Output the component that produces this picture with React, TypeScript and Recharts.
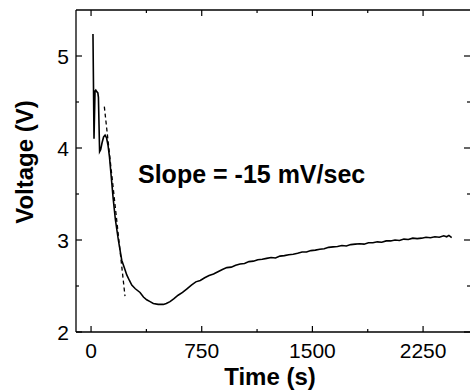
import React from 'react';
import { LineChart, Line, XAxis, YAxis } from 'recharts';

// measured trace (time in s, voltage in V)
const timeS = [
  13, 20, 27, 32, 40, 46, 50, 58, 65, 75, 85, 95, 105, 115, 125, 135, 150, 165, 185, 208,
  225, 242, 260, 276, 300, 332, 355, 377, 400, 422, 455, 490, 510, 535, 560, 590, 620, 650,
  680, 710, 740, 770, 800, 830, 860, 890, 920, 950, 980, 1010, 1040, 1070, 1100, 1130, 1160,
  1190, 1220, 1250, 1280, 1310, 1340, 1370, 1400, 1430, 1460, 1490, 1520, 1550, 1580, 1610,
  1640, 1670, 1700, 1730, 1760, 1790, 1820, 1850, 1880, 1910, 1940, 1970, 2000, 2030, 2060,
  2090, 2120, 2150, 2180, 2210, 2240, 2270, 2300, 2330, 2360, 2390, 2410, 2425, 2444,
];
const voltage = [
  5.24, 4.10, 4.62, 4.63, 4.61, 4.60, 4.55, 3.96, 3.98, 4.06, 4.12, 4.14, 4.11, 4.03, 3.90,
  3.72, 3.45, 3.22, 3.0, 2.78, 2.70, 2.62, 2.56, 2.51, 2.47, 2.43, 2.38, 2.35, 2.33, 2.31,
  2.30, 2.30, 2.31, 2.33, 2.36, 2.40, 2.43, 2.47, 2.51, 2.545, 2.56, 2.59, 2.615, 2.63, 2.655,
  2.68, 2.70, 2.705, 2.725, 2.74, 2.745, 2.765, 2.77, 2.785, 2.79, 2.80, 2.81, 2.805, 2.825,
  2.83, 2.84, 2.845, 2.855, 2.87, 2.87, 2.885, 2.89, 2.90, 2.905, 2.92, 2.925, 2.93, 2.94,
  2.935, 2.95, 2.955, 2.96, 2.955, 2.97, 2.97, 2.98, 2.975, 2.99, 2.99, 3.0, 2.995, 3.01,
  3.005, 3.02, 3.015, 3.02, 3.03, 3.025, 3.035, 3.03, 3.045, 3.035, 3.05, 3.025,
];

// linear fit of the initial drop
const fitTime = [90, 230];
const fitVoltage = [4.45, 2.39];

const xMajorTicks = [0, 750, 1500, 2250];
const xMinorTicks = [375, 1125, 1875];
const yMajorTicks = [2, 3, 4, 5];
const yMinorTicks = [2.5, 3.5, 4.5];

const traceData = timeS.map((t, i) => ({ t, v: voltage[i] }));
const fitData = fitTime.map((t, i) => ({ t, v: fitVoltage[i] }));

const FONT = '"Liberation Sans", Arial, sans-serif';
const X_DOMAIN: [number, number] = [-102, 2568];
const Y_DOMAIN: [number, number] = [2, 5.5];

const BottomTick = (props: any) => {
  const { x, y, payload } = props;
  const major = xMajorTicks.includes(payload.value);
  return (
    <g>
      <line x1={x} x2={x} y1={y} y2={y - (major ? 6 : 3)} stroke="#000" strokeWidth={1.2} />
      {major && (
        <text x={x} y={y + 26} textAnchor="middle" fontSize={21} fontFamily={FONT} fill="#000">
          {payload.value}
        </text>
      )}
    </g>
  );
};

const TopTick = (props: any) => {
  const { x, y, payload } = props;
  const major = xMajorTicks.includes(payload.value);
  return <line x1={x} x2={x} y1={y} y2={y + (major ? 6 : 3)} stroke="#000" strokeWidth={1.2} />;
};

const LeftTick = (props: any) => {
  const { x, y, payload } = props;
  const major = yMajorTicks.includes(payload.value);
  return (
    <g>
      <line x1={x} x2={x + (major ? 6 : 3)} y1={y} y2={y} stroke="#000" strokeWidth={1.2} />
      {major && (
        <text x={x - 7} y={y + 7.5} textAnchor="end" fontSize={21} fontFamily={FONT} fill="#000">
          {payload.value}
        </text>
      )}
    </g>
  );
};

const RightTick = (props: any) => {
  const { x, y, payload } = props;
  const major = yMajorTicks.includes(payload.value);
  return <line x1={x} x2={x - (major ? 6 : 3)} y1={y} y2={y} stroke="#000" strokeWidth={1.2} />;
};

export default function App() {
  return (
    <div style={{ position: 'absolute', left: 0, top: 0, width: 471, height: 392, background: '#fff' }}>
      <LineChart width={471} height={392} margin={{ top: 9, right: 0, bottom: 0, left: 0 }}>
        <XAxis
          xAxisId="bottom"
          dataKey="t"
          type="number"
          domain={X_DOMAIN}
          allowDataOverflow
          ticks={[...xMajorTicks, ...xMinorTicks]}
          interval={0}
          tickSize={0}
          tickMargin={0}
          tickLine={false}
          tick={BottomTick}
          height={60}
          axisLine={{ stroke: '#000', strokeWidth: 1.3 }}
          label={() => (
            <text x={270} y={385} textAnchor="middle" fontSize={24} fontWeight="bold" fontFamily={FONT} fill="#000">
              Time (s)
            </text>
          )}
        />
        <XAxis
          xAxisId="top"
          orientation="top"
          dataKey="t"
          type="number"
          domain={X_DOMAIN}
          allowDataOverflow
          ticks={[...xMajorTicks, ...xMinorTicks]}
          interval={0}
          tickSize={0}
          tickMargin={0}
          tickLine={false}
          tick={TopTick}
          height={1}
          axisLine={{ stroke: '#000', strokeWidth: 1.3 }}
        />
        <YAxis
          yAxisId="left"
          type="number"
          domain={Y_DOMAIN}
          allowDataOverflow
          ticks={[...yMajorTicks, ...yMinorTicks]}
          interval={0}
          tickSize={0}
          tickMargin={0}
          tickLine={false}
          tick={LeftTick}
          width={76}
          axisLine={{ stroke: '#000', strokeWidth: 1.3 }}
          label={() => (
            <text
              x={33}
              y={162}
              transform="rotate(-90, 33, 162)"
              textAnchor="middle"
              fontSize={24}
              fontWeight="bold"
              fontFamily={FONT}
              fill="#000"
            >
              Voltage (V)
            </text>
          )}
        />
        <YAxis
          yAxisId="right"
          orientation="right"
          type="number"
          domain={Y_DOMAIN}
          allowDataOverflow
          ticks={[...yMajorTicks, ...yMinorTicks]}
          interval={0}
          tickSize={0}
          tickMargin={0}
          tickLine={false}
          tick={RightTick}
          width={1}
          axisLine={false}
        />
        <Line
          xAxisId="bottom"
          yAxisId="left"
          data={traceData}
          dataKey="v"
          type="linear"
          stroke="#000"
          strokeWidth={1.6}
          dot={false}
          isAnimationActive={false}
        />
        <Line
          xAxisId="top"
          yAxisId="right"
          data={fitData}
          dataKey="v"
          type="linear"
          stroke="#000"
          strokeWidth={1.3}
          strokeDasharray="4 3"
          dot={false}
          isAnimationActive={false}
        />
      </LineChart>
      <div
        style={{
          position: 'absolute',
          left: 138,
          top: 162,
          fontFamily: FONT,
          fontSize: 25,
          fontWeight: 'bold',
          lineHeight: '25px',
          whiteSpace: 'nowrap',
          color: '#000',
        }}
      >
        Slope = -15 mV/sec
      </div>
    </div>
  );
}
